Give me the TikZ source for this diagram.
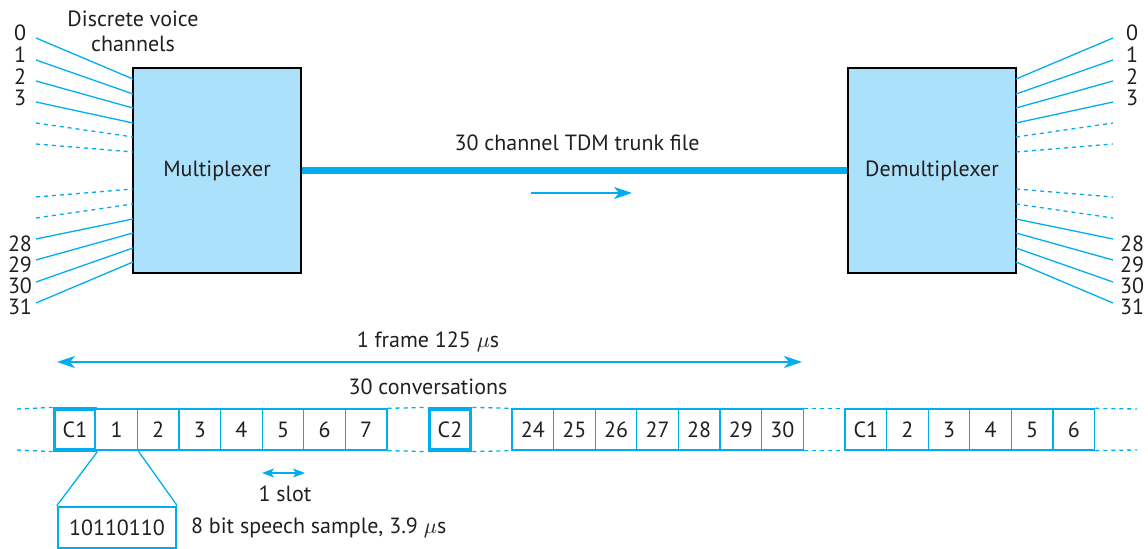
\documentclass[tikz,border=0pt]{standalone}
\usepackage{fontspec}
\setmainfont{PT Sans}
\usetikzlibrary{arrows.meta}
\definecolor{tdmcyan}{HTML}{00AEEF}
\definecolor{boxblue}{HTML}{ABE1FA}
\definecolor{inkgray}{HTML}{231F20}

\begin{document}
\begin{tikzpicture}[
  x=0.5pt, y=-0.5pt,
  every node/.style={text=inkgray, font=\fontsize{11}{12.5}\selectfont},
  unit/.style={draw=black, line width=1pt, fill=boxblue, minimum width=84pt, minimum height=102.5pt},
  chan/.style={draw=tdmcyan, line width=0.65pt},
  dashgap/.style={dash pattern=on 2pt off 2pt},
  cell/.style={draw=tdmcyan, line width=0.65pt, fill=white, minimum width=20.8pt, minimum height=20.5pt, inner sep=0pt},
  ctrl/.style={cell, line width=1.6pt},
  sample/.style={draw=tdmcyan, line width=1.25pt, minimum width=59pt, minimum height=20.5pt, inner sep=0pt},
  flow/.style={draw=tdmcyan, line width=0.65pt, -{Stealth[length=9pt, width=6pt, inset=2.5pt]}},
  span/.style={draw=tdmcyan, line width=0.65pt, {Stealth[length=9pt, width=6pt, inset=2.5pt]}-{Stealth[length=9pt, width=6pt, inset=2.5pt]}},
  slot/.style={draw=tdmcyan, line width=0.65pt, {Stealth[length=6pt, width=4.5pt, inset=1.5pt]}-{Stealth[length=6pt, width=4.5pt, inset=1.5pt]}}
]
  \useasboundingbox (0,0) rectangle (1148,549);

  % Multiplexer y demultiplexer
  \node[unit] (mux) at (217,170.5) {Multiplexer};
  \node[unit] (dmx) at (932,170.5) {Demultiplexer};
  \node[align=center] (title) at (133,31) {Discrete voice\\channels};

  % Canales de voz a ambos lados
  \foreach \k/\ya/\yb/\ls in {0/38/79/solid, 1/60/94/solid, 2/81/108/solid, 3/102/123/solid,
      4/123/137/dashgap, 5/144/152/dashgap, 6/197/189/dashgap, 7/218/204/dashgap,
      8/239/219/solid, 9/260/233/solid, 10/282/248/solid, 11/303/262/solid} {
    \coordinate (inL\k) at (36,\ya);
    \coordinate (muxL\k) at (133,\yb);
    \draw[chan,\ls] (inL\k) -- (muxL\k);
    \coordinate (outR\k) at (1113,\ya);
    \coordinate (dmxR\k) at (1016,\yb);
    \draw[chan,\ls] (dmxR\k) -- (outR\k);
  }
  \foreach \n/\y in {0/33, 1/55, 2/77, 3/98, 28/244, 29/265, 30/286, 31/307} {
    \node (lin\n) at (20,\y) {\n};
    \node (lout\n) at (1132,\y) {\n};
  }

  % Enlace troncal
  \draw[draw=tdmcyan, line width=3.5pt] (mux.east) -- (dmx.west);
  \node (trunk) at (577,143) {30 channel TDM trunk file};
  \coordinate (dirA) at (531,193);
  \coordinate (dirB) at (632,193);
  \draw[flow] (dirA) -- (dirB);

  % Trama
  \coordinate (frA) at (57,362);
  \coordinate (frB) at (802,362);
  \draw[span] (frA) -- (frB);
  \node (frame) at (428,342) {1 frame 125 $\mu$s};
  \node (conv) at (428,387) {30 conversations};

  % Ranuras de tiempo
  \node[ctrl] (fa0) at (75,429.5) {C1};
  \foreach \s [count=\i] in {1,...,7}
    \node[cell] (fa\s) at (75+41.6*\i,429.5) {\s};
  \node[ctrl] (fb0) at (450,429.5) {C2};
  \foreach \s [count=\i from 0] in {24,...,30}
    \node[cell] (fb\s) at (532.8+41.6*\i,429.5) {\s};
  \node[cell] (fc0) at (865.8,429.5) {C1};
  \foreach \s [count=\i] in {2,...,6}
    \node[cell] (fc\s) at (865.8+41.6*\i,429.5) {\s};

  % Tramos discontinuos entre grupos
  \coordinate (rowLa) at (17,409);
  \coordinate (rowLb) at (17,450);
  \coordinate (rowRa) at (1137,409);
  \coordinate (rowRb) at (1137,450);
  \draw[chan,dashgap] (rowLa) -- (fa0.north west) (rowLb) -- (fa0.south west);
  \draw[chan,dashgap] (fa7.north east) -- (fb0.north west) (fa7.south east) -- (fb0.south west);
  \draw[chan,dashgap] (fb0.north east) -- (fb24.north west) (fb0.south east) -- (fb24.south west);
  \draw[chan,dashgap] (fb30.north east) -- (fc0.north west) (fb30.south east) -- (fc0.south west);
  \draw[chan,dashgap] (fc6.north east) -- (rowRa) (fc6.south east) -- (rowRb);

  % Una ranura
  \coordinate (slA) at (262,473);
  \coordinate (slB) at (305,473);
  \draw[slot] (slA) -- (slB);
  \node (slotlbl) at (285,494) {1 slot};

  % Muestra de voz
  \node[sample] (smp) at (117,527.5) {10110110};
  \draw[chan] (fa0.south east) -- (smp.north west);
  \draw[chan] (fa1.south east) -- (smp.north east);
  \node[right] (smplbl) at (184,527.5) {8 bit speech sample, 3.9 $\mu$s};

\end{tikzpicture}
\end{document}
